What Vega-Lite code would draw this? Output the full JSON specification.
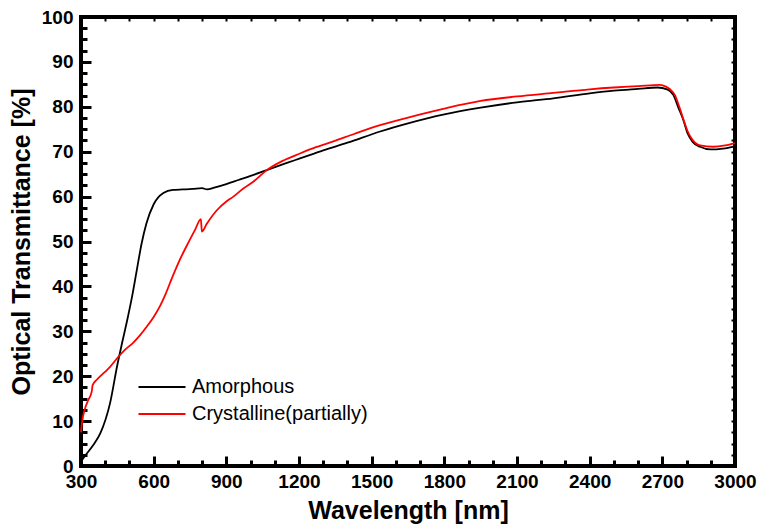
{
  "$schema": "https://vega.github.io/schema/vega-lite/v6.json",
  "width": 654,
  "height": 449,
  "autosize": {"type": "none"},
  "padding": {"left": 81, "top": 17, "right": 25, "bottom": 61},
  "background": "white",
  "config": {
    "font": "Liberation Sans",
    "view": {"stroke": "black", "strokeWidth": 4},
    "axis": {"domain": false, "grid": false, "tickColor": "black", "labelColor": "black", "titleColor": "black"}
  },
  "data": {
    "values": [
      {"series": "Amorphous", "wl": 300, "T": 1.0},
      {"series": "Amorphous", "wl": 320, "T": 2.5},
      {"series": "Amorphous", "wl": 350, "T": 4.6},
      {"series": "Amorphous", "wl": 380, "T": 7.3},
      {"series": "Amorphous", "wl": 420, "T": 14.0},
      {"series": "Amorphous", "wl": 450, "T": 22.5},
      {"series": "Amorphous", "wl": 470, "T": 27.5},
      {"series": "Amorphous", "wl": 490, "T": 32.3},
      {"series": "Amorphous", "wl": 510, "T": 37.5},
      {"series": "Amorphous", "wl": 530, "T": 43.5},
      {"series": "Amorphous", "wl": 550, "T": 49.5},
      {"series": "Amorphous", "wl": 570, "T": 54.0},
      {"series": "Amorphous", "wl": 600, "T": 58.3},
      {"series": "Amorphous", "wl": 640, "T": 60.8},
      {"series": "Amorphous", "wl": 680, "T": 61.5},
      {"series": "Amorphous", "wl": 720, "T": 61.6},
      {"series": "Amorphous", "wl": 760, "T": 61.7},
      {"series": "Amorphous", "wl": 800, "T": 61.9},
      {"series": "Amorphous", "wl": 820, "T": 61.6},
      {"series": "Amorphous", "wl": 850, "T": 62.0},
      {"series": "Amorphous", "wl": 900, "T": 62.8},
      {"series": "Amorphous", "wl": 950, "T": 63.7},
      {"series": "Amorphous", "wl": 1000, "T": 64.6},
      {"series": "Amorphous", "wl": 1067, "T": 65.9},
      {"series": "Amorphous", "wl": 1150, "T": 67.5},
      {"series": "Amorphous", "wl": 1204, "T": 68.5},
      {"series": "Amorphous", "wl": 1300, "T": 70.3},
      {"series": "Amorphous", "wl": 1400, "T": 72.0},
      {"series": "Amorphous", "wl": 1535, "T": 74.5},
      {"series": "Amorphous", "wl": 1650, "T": 76.3},
      {"series": "Amorphous", "wl": 1800, "T": 78.3},
      {"series": "Amorphous", "wl": 1950, "T": 79.8},
      {"series": "Amorphous", "wl": 2100, "T": 81.0},
      {"series": "Amorphous", "wl": 2250, "T": 81.9},
      {"series": "Amorphous", "wl": 2400, "T": 83.0},
      {"series": "Amorphous", "wl": 2500, "T": 83.6},
      {"series": "Amorphous", "wl": 2600, "T": 84.0},
      {"series": "Amorphous", "wl": 2680, "T": 84.3},
      {"series": "Amorphous", "wl": 2720, "T": 83.9},
      {"series": "Amorphous", "wl": 2746, "T": 82.6},
      {"series": "Amorphous", "wl": 2765, "T": 80.0},
      {"series": "Amorphous", "wl": 2787, "T": 77.0},
      {"series": "Amorphous", "wl": 2805, "T": 74.0},
      {"series": "Amorphous", "wl": 2825, "T": 72.2},
      {"series": "Amorphous", "wl": 2856, "T": 71.1},
      {"series": "Amorphous", "wl": 2900, "T": 70.5},
      {"series": "Amorphous", "wl": 2950, "T": 70.7},
      {"series": "Amorphous", "wl": 3000, "T": 71.2},
      {"series": "Crystalline(partially)", "wl": 300, "T": 7.5},
      {"series": "Crystalline(partially)", "wl": 305, "T": 10.0},
      {"series": "Crystalline(partially)", "wl": 315, "T": 12.5},
      {"series": "Crystalline(partially)", "wl": 330, "T": 14.7},
      {"series": "Crystalline(partially)", "wl": 344, "T": 16.5},
      {"series": "Crystalline(partially)", "wl": 348, "T": 18.0},
      {"series": "Crystalline(partially)", "wl": 365, "T": 19.2},
      {"series": "Crystalline(partially)", "wl": 400, "T": 21.0},
      {"series": "Crystalline(partially)", "wl": 420, "T": 22.1},
      {"series": "Crystalline(partially)", "wl": 454, "T": 24.3},
      {"series": "Crystalline(partially)", "wl": 480, "T": 25.8},
      {"series": "Crystalline(partially)", "wl": 516, "T": 27.5},
      {"series": "Crystalline(partially)", "wl": 545, "T": 29.2},
      {"series": "Crystalline(partially)", "wl": 571, "T": 31.0},
      {"series": "Crystalline(partially)", "wl": 600, "T": 33.2},
      {"series": "Crystalline(partially)", "wl": 626, "T": 35.6},
      {"series": "Crystalline(partially)", "wl": 650, "T": 38.4},
      {"series": "Crystalline(partially)", "wl": 675, "T": 41.8},
      {"series": "Crystalline(partially)", "wl": 705, "T": 45.6},
      {"series": "Crystalline(partially)", "wl": 736, "T": 49.0},
      {"series": "Crystalline(partially)", "wl": 770, "T": 52.5},
      {"series": "Crystalline(partially)", "wl": 795, "T": 55.0},
      {"series": "Crystalline(partially)", "wl": 799, "T": 52.2},
      {"series": "Crystalline(partially)", "wl": 820, "T": 54.0},
      {"series": "Crystalline(partially)", "wl": 860, "T": 56.9},
      {"series": "Crystalline(partially)", "wl": 900, "T": 58.9},
      {"series": "Crystalline(partially)", "wl": 929, "T": 60.0},
      {"series": "Crystalline(partially)", "wl": 970, "T": 61.8},
      {"series": "Crystalline(partially)", "wl": 1011, "T": 63.3},
      {"series": "Crystalline(partially)", "wl": 1067, "T": 65.9},
      {"series": "Crystalline(partially)", "wl": 1130, "T": 67.9},
      {"series": "Crystalline(partially)", "wl": 1204, "T": 69.6},
      {"series": "Crystalline(partially)", "wl": 1270, "T": 71.0},
      {"series": "Crystalline(partially)", "wl": 1342, "T": 72.3},
      {"series": "Crystalline(partially)", "wl": 1430, "T": 74.0},
      {"series": "Crystalline(partially)", "wl": 1535, "T": 75.9},
      {"series": "Crystalline(partially)", "wl": 1650, "T": 77.6},
      {"series": "Crystalline(partially)", "wl": 1800, "T": 79.6},
      {"series": "Crystalline(partially)", "wl": 1950, "T": 81.3},
      {"series": "Crystalline(partially)", "wl": 2100, "T": 82.3},
      {"series": "Crystalline(partially)", "wl": 2250, "T": 83.1},
      {"series": "Crystalline(partially)", "wl": 2400, "T": 83.9},
      {"series": "Crystalline(partially)", "wl": 2500, "T": 84.3},
      {"series": "Crystalline(partially)", "wl": 2600, "T": 84.6},
      {"series": "Crystalline(partially)", "wl": 2690, "T": 84.9},
      {"series": "Crystalline(partially)", "wl": 2715, "T": 84.5},
      {"series": "Crystalline(partially)", "wl": 2732, "T": 83.9},
      {"series": "Crystalline(partially)", "wl": 2752, "T": 82.6},
      {"series": "Crystalline(partially)", "wl": 2770, "T": 80.0},
      {"series": "Crystalline(partially)", "wl": 2787, "T": 77.2},
      {"series": "Crystalline(partially)", "wl": 2805, "T": 74.5},
      {"series": "Crystalline(partially)", "wl": 2820, "T": 73.0},
      {"series": "Crystalline(partially)", "wl": 2856, "T": 71.4},
      {"series": "Crystalline(partially)", "wl": 2910, "T": 71.1},
      {"series": "Crystalline(partially)", "wl": 2960, "T": 71.4},
      {"series": "Crystalline(partially)", "wl": 3000, "T": 71.9}
    ]
  },
  "layer": [
    {
      "mark": {"type": "line", "strokeWidth": 1.8, "interpolate": "monotone"},
      "encoding": {
        "x": {
          "field": "wl", "type": "quantitative",
          "scale": {"domain": [300, 3000], "nice": false, "zero": false},
          "axis": {
            "orient": "bottom",
            "values": [300, 600, 900, 1200, 1500, 1800, 2100, 2400, 2700, 3000],
            "format": "d",
            "tickSize": -8, "tickWidth": 3,
            "labelFontSize": 19, "labelFontWeight": "bold", "labelPadding": 14,
            "labelFlush": false, "labelOverlap": false,
            "title": "Wavelength [nm]", "titleFontSize": 25, "titleFontWeight": "bold", "titlePadding": 7
          }
        },
        "y": {
          "field": "T", "type": "quantitative",
          "scale": {"domain": [0, 100], "nice": false},
          "axis": {
            "orient": "left",
            "values": [0, 10, 20, 30, 40, 50, 60, 70, 80, 90, 100],
            "tickSize": -8, "tickWidth": 3,
            "labelFontSize": 19, "labelFontWeight": "bold", "labelPadding": 16,
            "labelFlush": false, "labelOverlap": false,
            "title": "Optical Transmittance [%]", "titleFontSize": 25, "titleFontWeight": "bold", "titlePadding": 7
          }
        },
        "color": {
          "field": "series", "type": "nominal",
          "scale": {"domain": ["Amorphous", "Crystalline(partially)"], "range": ["#000000", "#ff0000"]},
          "legend": {
            "orient": "none", "legendX": 70, "legendY": 359,
            "title": null, "padding": 0,
            "symbolType": "M-2.35,0H2.35", "symbolSize": 400, "symbolStrokeWidth": 2,
            "labelFontSize": 20, "labelColor": "black", "labelOffset": 19, "labelLimit": 400, "rowPadding": 6
          }
        }
      }
    },
    {
      "mark": {"type": "line", "strokeOpacity": 0},
      "encoding": {
        "x": {
          "field": "wl", "type": "quantitative",
          "axis": {
            "orient": "bottom",
            "values": [400, 500, 700, 800, 1000, 1100, 1300, 1400, 1600, 1700, 1900, 2000, 2200, 2300, 2500, 2600, 2800, 2900],
            "tickSize": -6, "tickWidth": 3, "labels": false, "title": null
          }
        },
        "y": {
          "field": "T", "type": "quantitative",
          "axis": {
            "orient": "left",
            "values": [2.5, 5, 7.5, 12.5, 15, 17.5, 22.5, 25, 27.5, 32.5, 35, 37.5, 42.5, 45, 47.5, 52.5, 55, 57.5, 62.5, 65, 67.5, 72.5, 75, 77.5, 82.5, 85, 87.5, 92.5, 95, 97.5],
            "tickSize": -6, "tickWidth": 3, "labels": false, "title": null
          }
        },
        "detail": {"field": "series"}
      }
    },
    {
      "mark": {"type": "line", "strokeOpacity": 0},
      "encoding": {
        "x": {
          "field": "wl", "type": "quantitative",
          "axis": {
            "orient": "top",
            "values": [400, 500, 600, 700, 800, 900, 1000, 1100, 1200, 1300, 1400, 1500, 1600, 1700, 1800, 1900, 2000, 2100, 2200, 2300, 2400, 2500, 2600, 2700, 2800, 2900],
            "tickSize": -4, "tickWidth": 2, "labels": false, "title": null
          }
        },
        "y": {
          "field": "T", "type": "quantitative",
          "axis": {
            "orient": "right",
            "values": [2.5, 5, 7.5, 10, 12.5, 15, 17.5, 20, 22.5, 25, 27.5, 30, 32.5, 35, 37.5, 40, 42.5, 45, 47.5, 50, 52.5, 55, 57.5, 60, 62.5, 65, 67.5, 70, 72.5, 75, 77.5, 80, 82.5, 85, 87.5, 90, 92.5, 95, 97.5],
            "tickSize": -4, "tickWidth": 2, "labels": false, "title": null
          }
        },
        "detail": {"field": "series"}
      }
    },
    {
      "mark": {"type": "line", "strokeOpacity": 0},
      "encoding": {
        "x": {
          "field": "wl", "type": "quantitative",
          "axis": {
            "orient": "bottom",
            "values": [600, 900, 1200, 1500, 1800, 2100, 2400, 2700],
            "tickSize": -10, "tickWidth": 3, "labels": false, "title": null
          }
        },
        "y": {
          "field": "T", "type": "quantitative",
          "axis": {
            "orient": "left",
            "values": [10, 20, 30, 40, 50, 60, 70, 80, 90],
            "tickSize": -10, "tickWidth": 3, "labels": false, "title": null
          }
        },
        "detail": {"field": "series"}
      }
    }
  ],
  "resolve": {"axis": {"x": "independent", "y": "independent"}}
}
